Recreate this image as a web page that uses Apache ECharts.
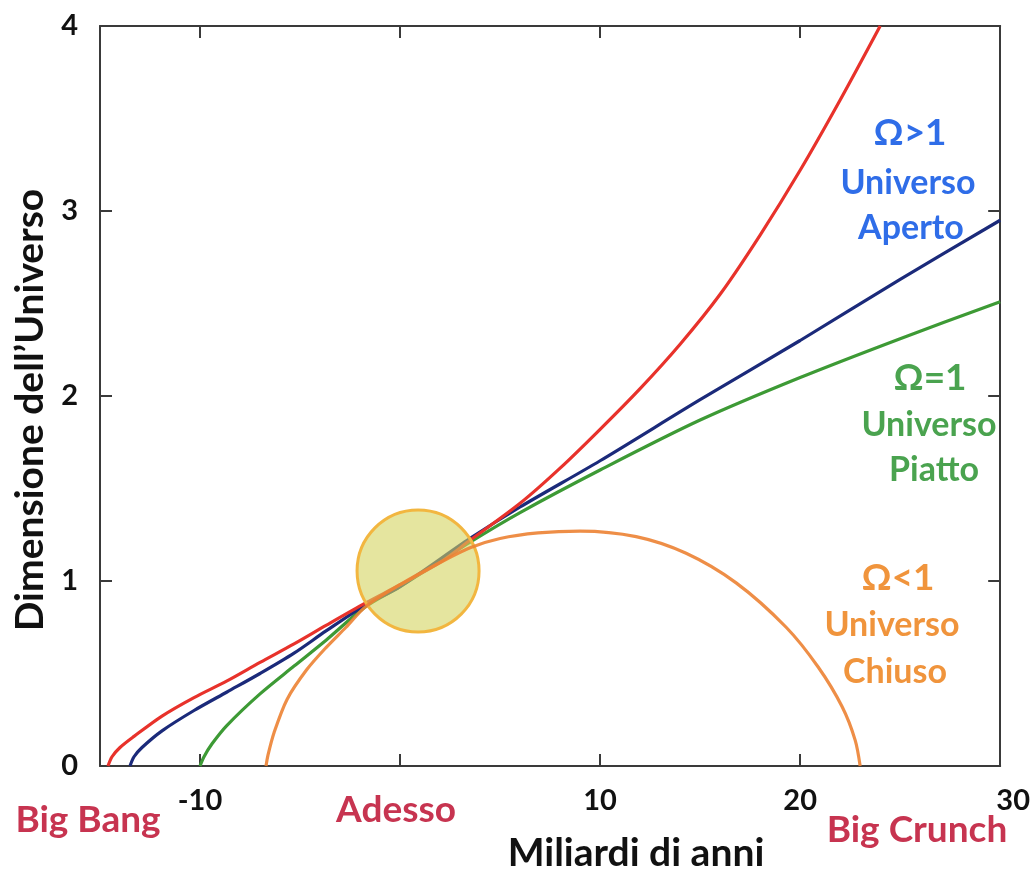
<!DOCTYPE html>
<html>
<head>
<meta charset="utf-8">
<script src="https://cdn.jsdelivr.net/npm/echarts@6/dist/echarts.min.js"></script>
<style>
html,body{margin:0;padding:0;background:#fff;}
#c{width:1033px;height:872px;}
</style>
</head>
<body>
<div id="c"></div>
<script>
// ---- data (x: miliardi di anni, y: dimensione relativa) ----
const xTickValues = [-10, 0, 10, 20];
const xLabelValues = [-10, 10, 20, 30];
const yTickValues = [1, 2, 3];
const yLabelValues = [0, 1, 2, 3, 4];

const redCurve = [
  [-14.6,0],[-14.4,0.05],[-14.0,0.1],[-13.3,0.16],[-11.9,0.27],[-10.3,0.37],[-8.65,0.46],[-7,0.56],
  [-5.3,0.66],[-3.7,0.76],[-1.74,0.88],[0,0.98],[2,1.1],[3.5,1.22],[6,1.42],[8,1.61],
  [10,1.82],[12,2.04],[14,2.28],[16,2.55],[18,2.87],[20,3.22],[22,3.6],[24,4.0]
];
const blueCurve = [
  [-13.5,0],[-13.3,0.05],[-12.9,0.1],[-11.9,0.19],[-10.3,0.3],[-8.65,0.4],[-7,0.5],[-5.3,0.61],
  [-3.7,0.73],[-1.74,0.87],[0,0.97],[3.5,1.23],[6,1.4],[10,1.65],[15,1.98],[20,2.3],
  [25,2.63],[30,2.95]
];
const greenCurve = [
  [-10,0],[-9.8,0.05],[-9.4,0.12],[-8.65,0.22],[-7,0.39],[-5.3,0.54],[-3.7,0.68],
  [-1.74,0.86],[0,0.97],[3.5,1.21],[6,1.37],[10,1.6],[15,1.87],[20,2.1],[25,2.31],[30,2.51]
];
const orangeCurve = [
  [-6.7,0],[-6.6,0.06],[-6.3,0.18],[-5.65,0.36],[-4.67,0.52],[-3.7,0.64],[-2.7,0.75],
  [-1.74,0.86],[0,0.98],[2,1.1],[3.5,1.18],[5,1.23],[6.9,1.26],[9,1.27],[11.8,1.24],
  [14.3,1.15],[16.8,0.99],[19.3,0.75],[20.9,0.535],[22.1,0.32],[22.75,0.14],[23,0]
];
const nowPoint = [[0.9, 1.054]];

const FONT = 'Lato';
const chart = echarts.init(document.getElementById('c'));

function lineSeries(data, color, z, opacity) {
  return {
    type: 'line', data: data, smooth: 0.3, showSymbol: false, symbol: 'none',
    lineStyle: { color: color, width: 3.2, opacity: opacity }, z: z, animation: false
  };
}
function txt(x, y, s, color, size) {
  return { type: 'text', x: x, y: y, style: { text: s, fill: color, font: 'bold ' + size + 'px ' + FONT, textAlign: 'center', textVerticalAlign: 'middle' }, z: 10 };
}

const axisLineStyle = { color: '#3a3a3a', width: 2 };

chart.setOption({
  animation: false,
  backgroundColor: '#fff',
  grid: { left: 100, right: 27, top: 26, bottom: 106 },
  xAxis: [
    {
      type: 'value', min: -15, max: 30, interval: 5, position: 'bottom',
      axisLine: { show: true, onZero: false, lineStyle: axisLineStyle },
      axisTick: { show: true, inside: true, length: 12, lineStyle: axisLineStyle, customValues: xTickValues },
      axisLabel: {
        show: true, customValues: xLabelValues, margin: 20,
        color: '#111', fontFamily: FONT, fontWeight: 'bold', fontSize: 29,
        formatter: function (v) { return v === 30 ? '{r|30}' : String(v); },
        rich: { r: { padding: [0, 0, 0, 26], color: '#111', fontFamily: FONT, fontWeight: 'bold', fontSize: 29 } }
      },
      splitLine: { show: false }
    },
    {
      type: 'value', min: -15, max: 30, interval: 5, position: 'top',
      axisLine: { show: true, onZero: false, lineStyle: axisLineStyle },
      axisTick: { show: true, inside: true, length: 12, lineStyle: axisLineStyle, customValues: xTickValues },
      axisLabel: { show: false },
      splitLine: { show: false }
    }
  ],
  yAxis: [
    {
      type: 'value', min: 0, max: 4, interval: 1, position: 'left',
      name: 'Dimensione dell\u2019Universo', nameLocation: 'middle', nameGap: 45,
      nameTextStyle: { color: '#111', fontFamily: FONT, fontWeight: 'bold', fontSize: 39, padding: [0, 28, 0, 0] },
      axisLine: { show: true, onZero: false, lineStyle: axisLineStyle },
      axisTick: { show: true, inside: true, length: 12, lineStyle: axisLineStyle, customValues: yTickValues },
      axisLabel: { show: true, customValues: yLabelValues, margin: 22, color: '#111', fontFamily: FONT, fontWeight: 'bold', fontSize: 29 },
      splitLine: { show: false }
    },
    {
      type: 'value', min: 0, max: 4, interval: 1, position: 'right',
      axisLine: { show: true, onZero: false, lineStyle: axisLineStyle },
      axisTick: { show: true, inside: true, length: 12, lineStyle: axisLineStyle, customValues: yTickValues },
      axisLabel: { show: false },
      splitLine: { show: false }
    }
  ],
  series: [
    lineSeries(greenCurve, '#3d9a35', 2, 1),
    lineSeries(blueCurve, '#1b2a7a', 2, 1),
    lineSeries(redCurve, '#e8322b', 2, 1),
    {
      type: 'scatter', data: nowPoint, symbol: 'circle', symbolSize: 122, z: 5,
      itemStyle: { color: 'rgba(212,212,95,0.6)', borderColor: '#f2b640', borderWidth: 3, opacity: 1 },
      emphasis: { disabled: true }, silent: true
    },
    lineSeries(orangeCurve, '#ec8233', 6, 0.9)
  ],
  graphic: [
    txt(910, 133, '\u03A9>1', '#2f6de8', 37),
    txt(908, 183, 'Universo', '#2f6de8', 34),
    txt(911, 228, 'Aperto', '#2f6de8', 34),
    txt(930, 378, '\u03A9=1', '#4aa34f', 37),
    txt(929, 425, 'Universo', '#4aa34f', 34),
    txt(934, 470, 'Piatto', '#4aa34f', 34),
    txt(898, 578, '\u03A9<1', '#f0943c', 37),
    txt(892, 625, 'Universo', '#f0943c', 34),
    txt(895, 672, 'Chiuso', '#f0943c', 34),
    txt(88, 820, 'Big Bang', '#c73450', 37),
    txt(396, 810, 'Adesso', '#c73450', 37),
    txt(917, 830, 'Big Crunch', '#c73450', 37),
    txt(636, 853, 'Miliardi di anni', '#111', 39)
  ]
});
</script>
</body>
</html>
